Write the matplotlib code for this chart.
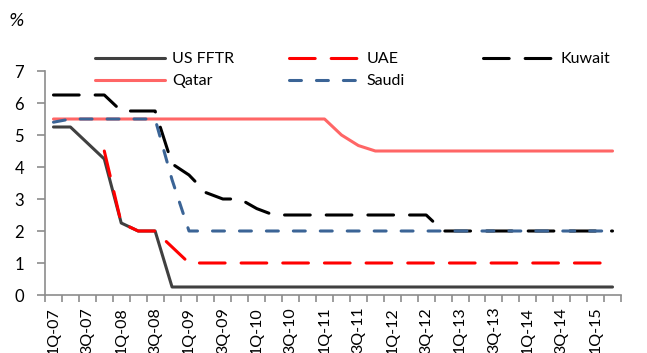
import matplotlib
matplotlib.use('Agg')
import matplotlib.pyplot as plt
import numpy as np

plt.rcParams['font.family'] = ['Lato', 'DejaVu Sans']
plt.rcParams['lines.scale_dashes'] = False

nan = np.nan

quarters = ['1Q-07', '2Q-07', '3Q-07', '4Q-07', '1Q-08', '2Q-08', '3Q-08', '4Q-08',
            '1Q-09', '2Q-09', '3Q-09', '4Q-09', '1Q-10', '2Q-10', '3Q-10', '4Q-10',
            '1Q-11', '2Q-11', '3Q-11', '4Q-11', '1Q-12', '2Q-12', '3Q-12', '4Q-12',
            '1Q-13', '2Q-13', '3Q-13', '4Q-13', '1Q-14', '2Q-14', '3Q-14', '4Q-14',
            '1Q-15', '2Q-15']

us_fftr = [5.25, 5.25, 4.75, 4.25, 2.25, 2.0, 2.0, 0.25,
           0.25, 0.25, 0.25, 0.25, 0.25, 0.25, 0.25, 0.25,
           0.25, 0.25, 0.25, 0.25, 0.25, 0.25, 0.25, 0.25,
           0.25, 0.25, 0.25, 0.25, 0.25, 0.25, 0.25, 0.25,
           0.25, 0.25]
uae = [nan, nan, nan, 4.5, 2.25, 2.0, 2.0, 1.5,
       1.0, 1.0, 1.0, 1.0, 1.0, 1.0, 1.0, 1.0,
       1.0, 1.0, 1.0, 1.0, 1.0, 1.0, 1.0, 1.0,
       1.0, 1.0, 1.0, 1.0, 1.0, 1.0, 1.0, 1.0,
       1.0, 1.0]
kuwait = [6.25, 6.25, 6.25, 6.25, 5.75, 5.75, 5.75, 4.1,
          3.75, 3.2, 3.0, 3.0, 2.7, 2.5, 2.5, 2.5,
          2.5, 2.5, 2.5, 2.5, 2.5, 2.5, 2.5, 2.0,
          2.0, 2.0, 2.0, 2.0, 2.0, 2.0, 2.0, 2.0,
          2.0, 2.0]
qatar = [5.5, 5.5, 5.5, 5.5, 5.5, 5.5, 5.5, 5.5,
         5.5, 5.5, 5.5, 5.5, 5.5, 5.5, 5.5, 5.5,
         5.5, 5.0, 4.67, 4.5, 4.5, 4.5, 4.5, 4.5,
         4.5, 4.5, 4.5, 4.5, 4.5, 4.5, 4.5, 4.5,
         4.5, 4.5]
saudi = [5.4, 5.5, 5.5, 5.5, 5.5, 5.5, 5.5, 3.6,
         2.0, 2.0, 2.0, 2.0, 2.0, 2.0, 2.0, 2.0,
         2.0, 2.0, 2.0, 2.0, 2.0, 2.0, 2.0, 2.0,
         2.0, 2.0, 2.0, 2.0, 2.0, 2.0, 2.0, 2.0,
         2.0, 2.0]

x = np.arange(len(quarters))
lw = 2.2
long_dash = (0, (18.5, 11.5))
short_dash = (0, (8.6, 10.8))

fig = plt.figure(figsize=(6.47, 3.53), dpi=100)
ax = fig.add_axes([45/647, 58/353, 576/647, 224/353])

p_us, = ax.plot(x, us_fftr, color='#404040', lw=lw, solid_capstyle='round', solid_joinstyle='round')
p_uae, = ax.plot(x, uae, color='#FF0000', lw=lw, ls=long_dash, dash_capstyle='round', dash_joinstyle='round')
p_kw, = ax.plot(x, kuwait, color='#000000', lw=lw, ls=long_dash, dash_capstyle='round', dash_joinstyle='round')
p_qa, = ax.plot(x, qatar, color='#FF6666', lw=lw, solid_capstyle='round', solid_joinstyle='round')
p_sa, = ax.plot(x, saudi, color='#3B6496', lw=lw, ls=short_dash, dash_capstyle='round', dash_joinstyle='round')

ax.set_xlim(-0.5, len(quarters) - 0.5)
ax.set_ylim(0, 7)
ax.set_yticks(range(0, 8))
ax.set_xticks(x[::2])
ax.set_xticklabels(quarters[::2], rotation=90)
ax.set_xticks(np.arange(-0.5, len(quarters)), minor=True)

axis_col = '#8C8C8C'
for s in ['top', 'right']:
    ax.spines[s].set_visible(False)
for s in ['left', 'bottom']:
    ax.spines[s].set_color(axis_col)
    ax.spines[s].set_linewidth(1.2)
ax.tick_params(axis='x', which='major', length=0, pad=8.5, labelsize=11.5)
ax.tick_params(axis='x', which='minor', length=5, color=axis_col, width=1.2)
ax.tick_params(axis='y', length=6, color=axis_col, width=1.2, pad=9, labelsize=12)

fig.text(16/647, 1 - 21/353, '%', style='italic', family='DejaVu Sans', fontsize=12,
         ha='center', va='center')

cols = [([p_us, p_qa], ['US FFTR', 'Qatar'], 95),
        ([p_uae, p_sa], ['UAE', 'Saudi'], 289),
        ([p_kw], ['Kuwait'], 483)]
for handles, labels, x0 in cols:
    leg = fig.legend(handles, labels, loc='upper left', bbox_to_anchor=(x0/647, 1 - 52/353),
                     frameon=False, fontsize=11.5, handlelength=4.4, handletextpad=0.45,
                     borderpad=0, borderaxespad=0, labelspacing=0.5)

fig.savefig('out.png', dpi=100)
